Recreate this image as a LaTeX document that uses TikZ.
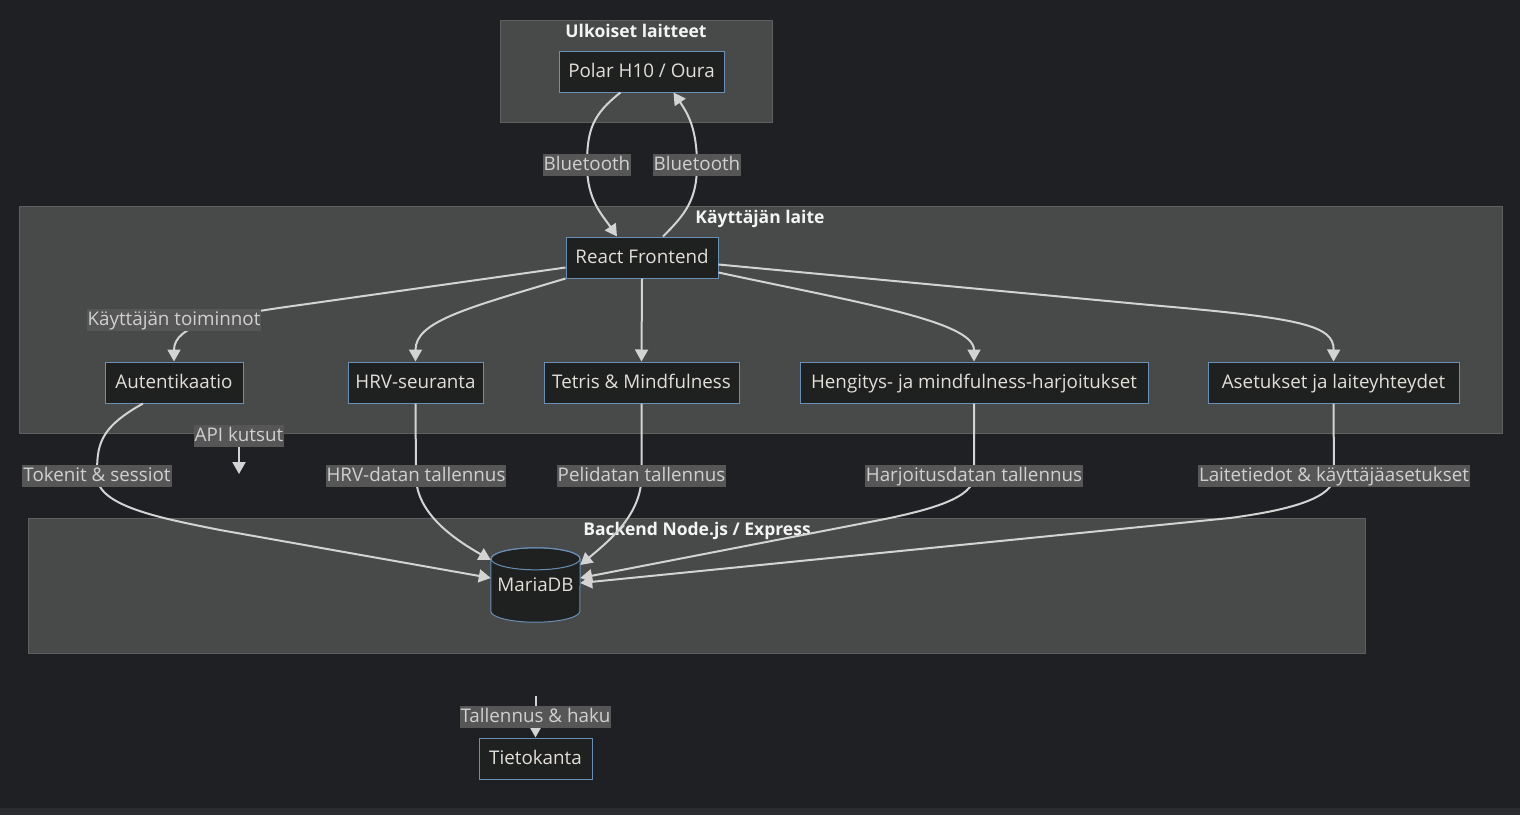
\documentclass[tikz,border=0pt]{standalone}
\usepackage{fontspec}
\setmainfont{Open Sans}
\usetikzlibrary{arrows.meta,calc}
\definecolor{bgc}{HTML}{1F2023}
\definecolor{stripc}{HTML}{2B2C2F}
\definecolor{clfill}{HTML}{484949}
\definecolor{cldraw}{HTML}{5E5F5F}
\definecolor{nfill}{HTML}{1F2020}
\definecolor{ndraw}{HTML}{6A8FB5}
\definecolor{ntext}{HTML}{E2DED8}
\definecolor{ttext}{HTML}{F4F4F4}
\definecolor{lnc}{HTML}{D3D3D3}
\definecolor{lblbg}{HTML}{565656}
\definecolor{lbltext}{HTML}{D0D0D0}
\newcommand{\txtsize}{\fontsize{18.8}{22}\selectfont}
\tikzset{
  cluster/.style={draw=cldraw, fill=clfill, line width=1pt, inner sep=0pt},
  ttl/.style={text=ttext, font=\fontsize{17.5}{21}\selectfont\bfseries, inner sep=0pt,
    text height=13.5pt, text depth=3pt},
  box/.style={draw=ndraw, fill=nfill, line width=1pt, text=ntext,
    minimum height=41pt, inner sep=0pt, text height=14pt, text depth=3pt, font=\txtsize},
  lbl/.style={fill=lblbg, text=lbltext, inner xsep=1pt, inner ysep=1.5pt,
    text height=14.5pt, text depth=4pt, font=\txtsize},
  conn/.style={draw=lnc, line width=2pt},
  arr/.style={conn, -{Triangle[length=12pt,width=13pt]}},
}
\begin{document}
\begin{tikzpicture}[x=1pt,y=-1pt]
% canvas
\fill[bgc] (0,0) rectangle (1520,815);
\fill[stripc] (0,808) rectangle (1520,815);
\useasboundingbox (0,0) rectangle (1520,815);

% groups
\node[cluster, minimum width=272pt, minimum height=102pt] (extgrp) at (636,71) {};
\node[cluster, minimum width=1483pt, minimum height=227pt] (usergrp) at (760.5,319.5) {};
\node[cluster, minimum width=1337pt, minimum height=135pt] (backgrp) at (696.5,585.5) {};
\node[ttl] (extttl) at (636,32.5) {Ulkoiset laitteet};
\node[ttl] (userttl) at (760,218.5) {Käyttäjän laite};
\node[ttl] (backttl) at (697,530.5) {Backend Node.js / Express};

% nodes
\node[box, minimum width=165pt] (polar) at (641.5,71.5) {Polar H10 / Oura};
\node[box, minimum width=152pt] (react) at (642,257.5) {React Frontend};
\node[box, minimum width=138pt] (aut) at (174,382.5) {Autentikaatio};
\node[box, minimum width=135pt] (hrv) at (415.5,382.5) {HRV-seuranta};
\node[box, minimum width=195pt] (tet) at (641.5,382.5) {Tetris \& Mindfulness};
\node[box, minimum width=348pt] (heng) at (974,382.5) {Hengitys- ja mindfulness-harjoitukset};
\node[box, minimum width=251pt] (ase) at (1333.5,382.5) {Asetukset ja laiteyhteydet};
\node[box, minimum width=113pt] (tiet) at (535.5,758.5) {Tietokanta};

% database cylinder
\node[minimum width=89pt, minimum height=74pt, inner sep=0pt] (maria) at (535.5,585) {};
\path[fill=nfill, draw=ndraw, line width=1pt]
  ($(maria.north west)+(0,11)$) -- ($(maria.south west)+(0,-11)$)
  arc[start angle=180, end angle=0, x radius=44.5, y radius=11]
  -- ($(maria.north east)+(0,11)$)
  arc[start angle=0, end angle=-180, x radius=44.5, y radius=11] -- cycle;
\draw[ndraw, line width=1pt] ($(maria.north)+(0,11)$) ellipse[x radius=44.5, y radius=11];
\node[text=ntext, font=\txtsize, inner sep=0pt, text height=14pt, text depth=3pt] (mariatxt) at (535.5,586) {MariaDB};

% free ends
\coordinate (apiend) at (239,474);
\coordinate (tstart) at (535.5,696);

% points where the labelled connectors pass their labels
\path (587,165) coordinate (bt1c) (697,165) coordinate (bt2c)
      (97,476) coordinate (tokc) (416,476) coordinate (hlc) (641.5,476) coordinate (plc)
      (974,476) coordinate (hdc) (1334,476) coordinate (ltc);

% connectors
\draw[arr] ($(polar.south)+(-21,0)$) .. controls +(-28,22) and +(0,-35) .. (bt1c)
  .. controls +(0,35) and +(-15,-22) .. ($(react.north)+(-25,0)$);
\draw[arr] ($(react.north)+(21,0)$) .. controls +(22,-22) and +(0,35) .. (bt2c)
  .. controls +(0,-35) and +(15,22) .. ($(polar.south)+(32,0)$);

\draw[arr] ($(react.west)+(0,10)$) -- (300,305) .. controls (220,316) and (174,325) .. (aut.north);
\draw[arr] (react.south west) .. controls +(-100,30) and +(0,-40) .. (hrv.north);
\draw[arr] (react.south) -- (tet.north);
\draw[arr] ($(react.south east)+(0,-6)$) .. controls +(140,30) and +(0,-40) .. (heng.north);
\draw[arr] ($(react.east)+(0,7)$) -- (1150,305) .. controls (1300,318) and (1334,325) .. (ase.north);

\draw[arr] ($(aut.south)+(-31,0)$) .. controls +(-45,25) and +(0,-30) .. (tokc)
  .. controls +(0,30) and +(-60,-12) .. (220,530) -- ($(maria.west)+(0,-7)$);
\draw[arr] (hrv.south) -- (hlc) .. controls +(0,38) and +(-35,-20) .. ($(maria.west)+(0,-25)$);
\draw[arr] (tet.south) -- (plc) .. controls +(0,38) and +(30,-25) .. ($(maria.east)+(0,-20)$);
\draw[arr] (heng.south) -- (hdc) .. controls +(0,22) and +(50,-10) .. (880,520) -- ($(maria.east)+(0,-7)$);
\draw[arr] (ase.south) -- (ltc) .. controls +(0,22) and +(60,-8) .. (1230,518) -- ($(maria.east)+(0,-2)$);

% label boxes on top of the lines
\node[lbl] (bt1) at (bt1c) {Bluetooth};
\node[lbl] (bt2) at (bt2c) {Bluetooth};
\node[lbl] (kt) at (174,320) {Käyttäjän toiminnot};
\node[lbl] (api) at (239,436) {API kutsut};
\node[lbl] (tok) at (tokc) {Tokenit \& sessiot};
\node[lbl] (hl) at (hlc) {HRV-datan tallennus};
\node[lbl] (pl) at (plc) {Pelidatan tallennus};
\node[lbl] (hd) at (hdc) {Harjoitusdatan tallennus};
\node[lbl] (lt) at (ltc) {Laitetiedot \& käyttäjäasetukset};

\draw[arr] (api.south) .. controls +(0,10) and +(0,-12) .. (apiend);
\draw[arr] (tstart) -- (tiet.north);
\node[lbl] (th) at (535.5,717) {Tallennus \& haku};
\end{tikzpicture}
\end{document}
